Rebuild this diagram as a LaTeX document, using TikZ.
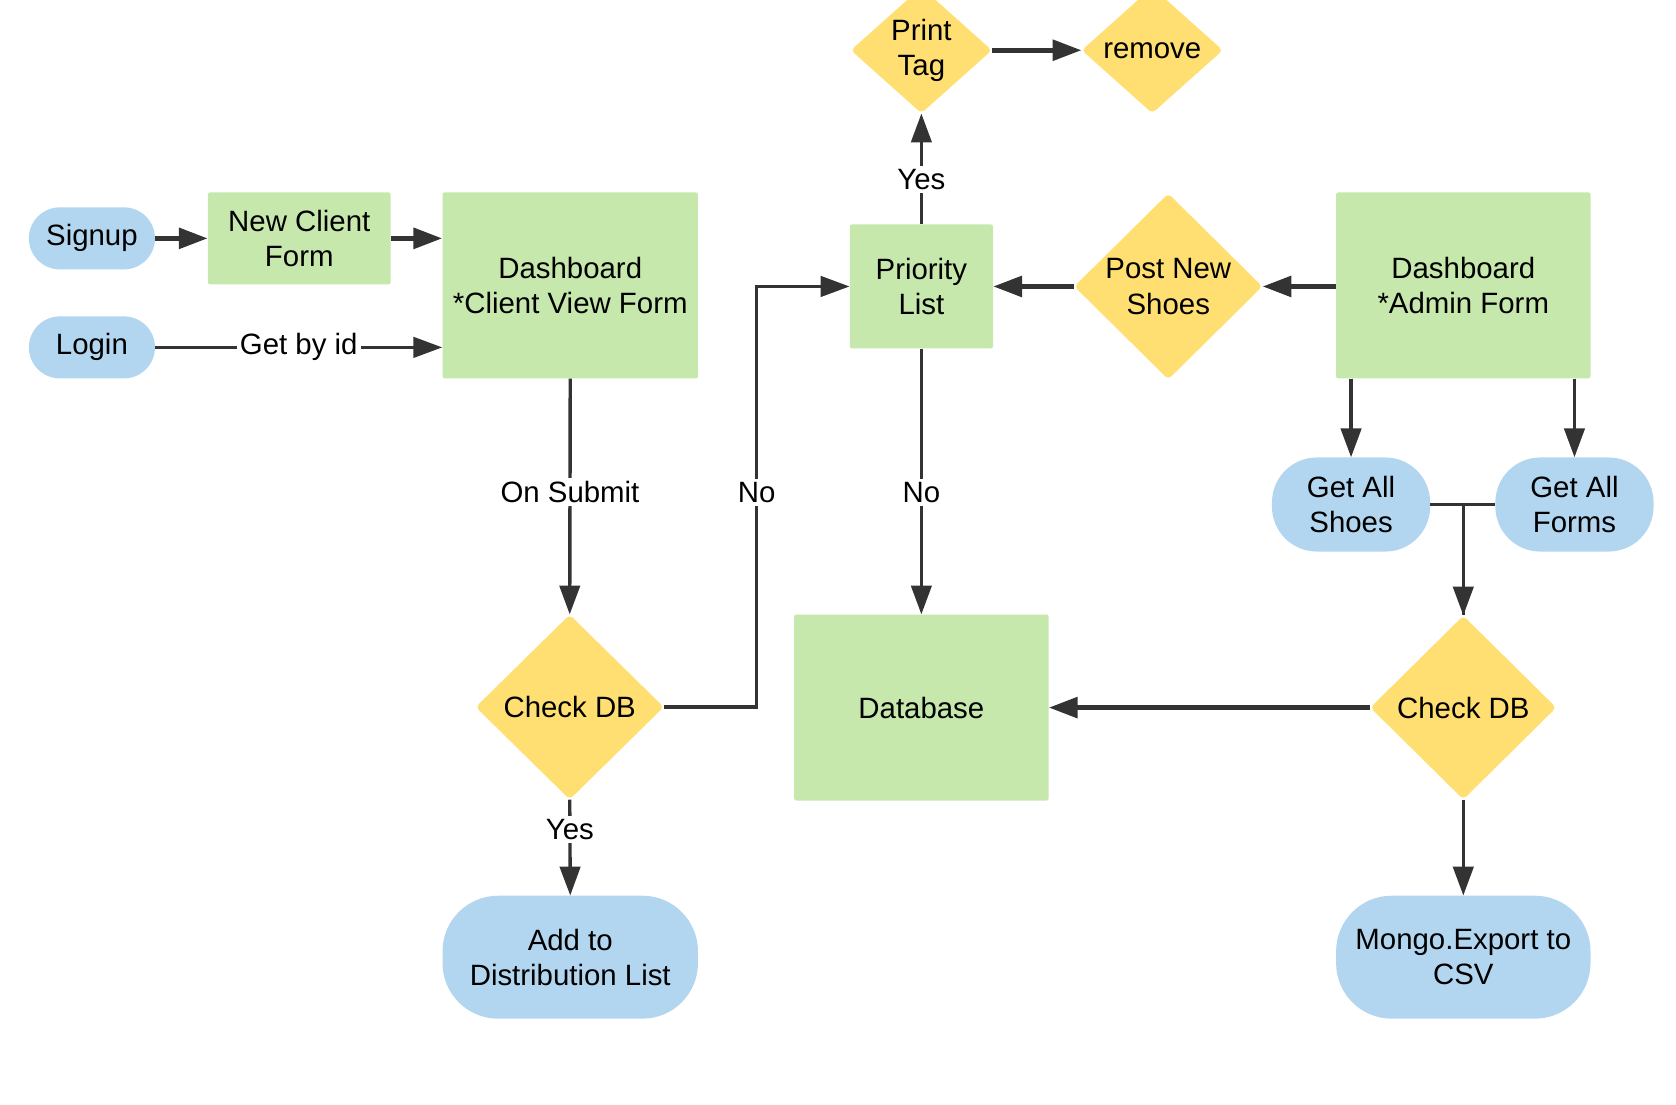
\documentclass[tikz,border=0pt]{standalone}
\usepackage{fontspec}
\setmainfont{Liberation Sans}
\usetikzlibrary{shapes.geometric,arrows.meta}
\definecolor{pillblue}{HTML}{B3D6F0}
\definecolor{boxgreen}{HTML}{C7E8AC}
\definecolor{diayellow}{HTML}{FFDF71}
\definecolor{linegray}{HTML}{333333}
\begin{document}
\begin{tikzpicture}[x=1pt,y=-1pt,
  every node/.style={font=\fontsize{27.5}{33}\selectfont, align=center, inner sep=0pt, text=black},
  pill/.style={rectangle, fill=pillblue, rounded corners=#1},
  pill/.default=29pt,
  gbox/.style={rectangle, fill=boxgreen, rounded corners=2pt},
  dia/.style={diamond, fill=diayellow, rounded corners=4pt},
  lbl/.style={fill=white, inner sep=3pt},
  conn/.style={draw=linegray, line width=3.2pt},
  thick conn/.style={draw=linegray, line width=4.6pt},
  tip/.style={-{Triangle[length=27pt,width=19pt]}}
]
\fill[white] (0,0) rectangle (1568,1033);
\useasboundingbox (0,0) rectangle (1568,1033);
\clip (0,0) rectangle (1568,1033);

% left column
\node[pill, minimum width=118pt, minimum height=58pt] (signup) at (86,223) {Signup};
\node[pill, minimum width=118pt, minimum height=58pt] (login) at (86,325) {Login};
\node[gbox, minimum width=171pt, minimum height=86pt] (ncf) at (280,223) {New Client\\Form};
\node[gbox, minimum width=239pt, minimum height=174pt] (dashC) at (533.5,267) {Dashboard\\*Client View Form};
\node[dia, minimum width=176pt, minimum height=173pt, label={center:Check DB}] (cdbL) at (533,661.5) {};
\node[pill=52pt, minimum width=239pt, minimum height=115pt] (add) at (533.5,895.5) {Add to\\Distribution List};

% middle column
\node[gbox, minimum width=134pt, minimum height=116pt] (plist) at (862,268) {Priority\\List};
\node[dia, minimum width=132pt, minimum height=118pt, label={[align=center]center:Print\\Tag}] (print) at (862,47) {};
\node[dia, minimum width=132pt, minimum height=118pt, label={center:remove}] (remove) at (1078,47) {};
\node[gbox, minimum width=238pt, minimum height=174pt] (db) at (862,662) {Database};
\node[dia, minimum width=176pt, minimum height=174pt, label={[align=center]center:Post New\\Shoes}] (post) at (1093,268) {};

% right column
\node[gbox, minimum width=238pt, minimum height=174pt] (admin) at (1369,267) {Dashboard\\*Admin Form};
\node[pill=42pt, minimum width=148pt, minimum height=88pt] (gas) at (1264,472) {Get All\\Shoes};
\node[pill=42pt, minimum width=148pt, minimum height=88pt] (gaf) at (1473,472) {Get All\\Forms};
\node[dia, minimum width=174pt, minimum height=172pt, label={center:Check DB}] (cdbR) at (1369,662) {};
\node[pill=52pt, minimum width=238pt, minimum height=115pt] (mongo) at (1369,895.5) {Mongo.Export to\\CSV};

% connectors
\draw[thick conn, tip] (signup.east) -- (ncf.west);
\draw[thick conn, tip] (ncf.east) -- (ncf.east -| dashC.west);
\draw[conn, tip] (login.east) -- node[lbl, pos=0.5] {Get by id} (login.east -| dashC.west);
\draw[conn, tip] (dashC.south) -- node[lbl, pos=0.48] {On Submit} (cdbL.north);
\draw[conn, tip] (cdbL.south) -- node[lbl, pos=0.31] {Yes} (add.north);
\draw[conn, tip] (cdbL.east) -- (708,661.5) -- node[lbl, pos=0.51] {No} (708,268) -- (plist.west);
\draw[conn, tip] (plist.north) -- node[lbl, pos=0.40] {Yes} (print.south);
\draw[thick conn, tip] (print.east) -- (remove.west);
\draw[conn, tip] (plist.south) -- node[lbl, pos=0.54] {No} (db.north);
\draw[thick conn, tip] (post.west) -- (plist.east);
\draw[thick conn, tip] (admin.west |- post.east) -- (post.east);
\draw[conn, tip] (admin.south -| gas.north) -- (gas.north);
\draw[conn, tip] (admin.south -| gaf.north) -- (gaf.north);
\draw[conn] (gaf.west) -| (cdbR.north);
\draw[conn, tip] (gas.east) -| (cdbR.north);
\draw[thick conn, tip] (cdbR.west) -- (db.east);
\draw[conn, tip] (cdbR.south) -- (mongo.north);
\end{tikzpicture}
\end{document}
